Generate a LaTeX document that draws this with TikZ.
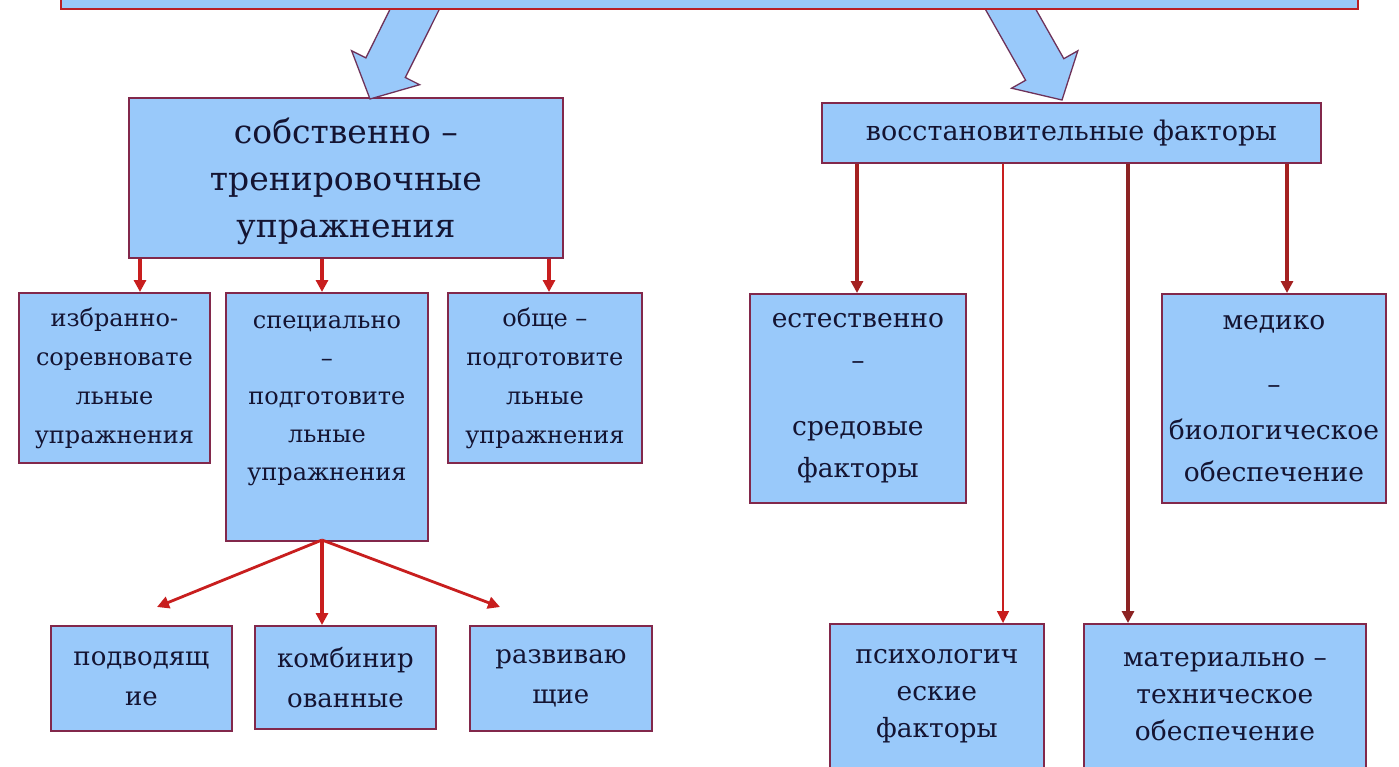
\documentclass[tikz,border=0pt]{standalone}
\usepackage{fontspec}
\setmainfont{DejaVu Serif}
\usetikzlibrary{arrows.meta}
\definecolor{boxfill}{RGB}{153,201,250}
\definecolor{boxline}{RGB}{130,40,75}
\definecolor{conn}{RGB}{200,30,30}
\definecolor{connd}{RGB}{140,35,35}
\definecolor{txt}{RGB}{20,20,50}
\definecolor{arrline}{RGB}{110,50,90}
\begin{document}
\begin{tikzpicture}[x=1pt,y=-1pt,
  box/.style={draw=boxline, line width=1.8pt, fill=boxfill, text=txt, align=center,
    inner sep=0pt, anchor=north west},
  bigtxt/.style={font={\fontsize{33}{47}\selectfont}},
  midtxt/.style={font={\fontsize{24}{39}\selectfont}},
  ftxt/.style={font={\fontsize{26.5}{42}\selectfont}},
  conn/.style={draw=conn, line width=3.2pt, -{Triangle[width=12pt,length=12pt]}},
  blockarrow/.style={draw=arrline, line width=1.3pt, fill=boxfill}
]
\useasboundingbox[fill=white] (0,0) rectangle (1399,767);

% boxes
\node[box, bigtxt, minimum width=434pt, minimum height=160pt] (a) at (128,97)
  {\\[-14pt]собственно –\\тренировочные\\упражнения};
\node[box, font={\fontsize{27}{30}\selectfont}, minimum width=499pt, minimum height=60pt] (b) at (821,102)
  {восстановительные факторы};

\node[box, midtxt, minimum width=191pt, minimum height=170pt] (c1) at (18,292)
  {избранно-\\соревновате\\льные\\упражнения};
\node[box, font={\fontsize{24}{38}\selectfont}, minimum width=202pt, minimum height=248pt] (c2) at (225,292)
  {специально\\–\\подготовите\\льные\\упражнения\\ \mbox{}};
\node[box, midtxt, minimum width=194pt, minimum height=170pt] (c3) at (447,292)
  {обще –\\подготовите\\льные\\упражнения};

\node[box, font={\fontsize{26}{40}\selectfont}, minimum width=181pt, minimum height=105pt] (d1) at (50,625)
  {подводящ\\ие};
\node[box, font={\fontsize{26}{40}\selectfont}, minimum width=181pt, minimum height=103pt] (d2) at (254,625)
  {комбинир\\ованные};
\node[box, font={\fontsize{26}{40}\selectfont}, minimum width=182pt, minimum height=105pt] (d3) at (469,625)
  {развиваю\\щие};

\node[box, ftxt, minimum width=216pt, minimum height=209pt] (e1) at (749,293)
  {естественно\\–\\[24pt]средовые\\факторы};
\node[box, ftxt, minimum width=224pt, minimum height=209pt] (e2) at (1161,293)
  {медико\\[22pt]–\\[4pt]биологическое\\обеспечение};

\node[box, font={\fontsize{26.5}{37}\selectfont}, minimum width=214pt, minimum height=145pt] (f1) at (829,623)
  {психологич\\еские\\факторы};
\node[box, font={\fontsize{26.5}{37}\selectfont}, minimum width=282pt, minimum height=145pt] (f2) at (1083,623)
  {материально –\\техническое\\обеспечение};

% block arrows from the top box
\path[blockarrow] (370,99) -- (419.6,84.7) -- (405.3,77.5) -- (446,-4) -- (406,-23)
  -- (365.9,57.9) -- (351.6,50.7) -- cycle;
\path[blockarrow] (1062,100) -- (1011.6,88.2) -- (1025.6,80.3) -- (976.3,-6.7) -- (1014.5,-28.3)
  -- (1063.8,58.7) -- (1077.8,50.8) -- cycle;

% top box (cut by the page edge)
\node[box, draw=conn!80!boxline, minimum width=1297pt, minimum height=60pt, anchor=south west] (top) at (60,10) {};

% connectors from a
\coordinate (xa1) at (140,0);
\coordinate (xa2) at (322,0);
\coordinate (xa3) at (549,0);
\draw[conn] (xa1 |- a.south) -- (xa1 |- c1.north);
\draw[conn] (xa2 |- a.south) -- (xa2 |- c2.north);
\draw[conn] (xa3 |- a.south) -- (xa3 |- c3.north);

% connectors from c2
\coordinate (c2o) at (322,540);
\coordinate (t1) at (157,607);
\coordinate (t3) at (500,607);
\draw[conn, line width=2.8pt] (c2o) -- (t1);
\draw[conn] (c2o) -- (xa2 |- d2.north);
\draw[conn, line width=2.8pt] (c2o) -- (t3);

% connectors from b
\coordinate (xb1) at (857,0);
\coordinate (xb2) at (1003,0);
\coordinate (xb3) at (1128,0);
\coordinate (xb4) at (1287,0);
\draw[conn, draw=connd!60!conn] (xb1 |- b.south) -- (xb1 |- e1.north);
\draw[conn, line width=1.5pt] (xb2 |- b.south) -- (xb2 |- f1.north);
\draw[conn, draw=connd] (xb3 |- b.south) -- (xb3 |- f2.north);
\draw[conn, draw=connd!60!conn] (xb4 |- b.south) -- (xb4 |- e2.north);
\end{tikzpicture}
\end{document}
